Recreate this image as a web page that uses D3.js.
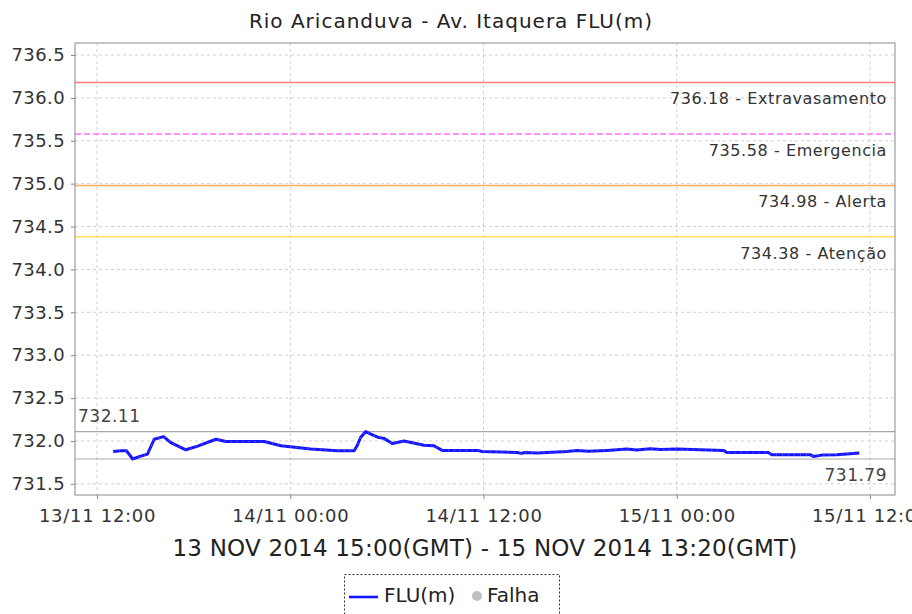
<!DOCTYPE html>
<html>
<head>
<meta charset="utf-8">
<title>Rio Aricanduva - Av. Itaquera FLU(m)</title>
<script src="https://d3js.org/d3.v7.min.js"></script>
<style>
  body { margin: 0; background: #fff; }
  svg { display: block; font-family: "DejaVu Sans", sans-serif; }
  .grid line { stroke: #cfcfcf; stroke-dasharray: 3,3; }
  .axis text { fill: #333; font-family: "DejaVu Sans", sans-serif; }
  .axis path, .axis line { stroke: #888; }
</style>
</head>
<body>
<svg width="912" height="614"></svg>
<script>
// readings of the FLU(m) series (local time)
var times = [
  "2014-11-13 13:00", "2014-11-13 13:30", "2014-11-13 13:50", "2014-11-13 14:13",
  "2014-11-13 14:40", "2014-11-13 15:08", "2014-11-13 15:33", "2014-11-13 16:08",
  "2014-11-13 16:35", "2014-11-13 17:31", "2014-11-13 18:15", "2014-11-13 19:23",
  "2014-11-13 20:00", "2014-11-13 22:23", "2014-11-13 23:25", "2014-11-14 01:16",
  "2014-11-14 02:56", "2014-11-14 03:58", "2014-11-14 04:10", "2014-11-14 04:22",
  "2014-11-14 04:41", "2014-11-14 05:00", "2014-11-14 05:30", "2014-11-14 05:49",
  "2014-11-14 06:20", "2014-11-14 07:04", "2014-11-14 07:35", "2014-11-14 08:18",
  "2014-11-14 08:55", "2014-11-14 09:26", "2014-11-14 11:37", "2014-11-14 11:55",
  "2014-11-14 14:05", "2014-11-14 14:20", "2014-11-14 14:35", "2014-11-14 15:20",
  "2014-11-14 17:11", "2014-11-14 17:49", "2014-11-14 18:30", "2014-11-14 19:40",
  "2014-11-14 20:55", "2014-11-14 21:30", "2014-11-14 22:21", "2014-11-14 23:00",
  "2014-11-15 00:00", "2014-11-15 02:54", "2014-11-15 03:07", "2014-11-15 05:41",
  "2014-11-15 05:54", "2014-11-15 08:17", "2014-11-15 08:29", "2014-11-15 09:00",
  "2014-11-15 09:56", "2014-11-15 10:58", "2014-11-15 11:20"
];
var levels = [
  731.877, 731.885, 731.885, 731.79,
  731.82, 731.847, 732.02, 732.05,
  731.98, 731.897, 731.94, 732.02,
  731.994, 731.994, 731.944, 731.905,
  731.886, 731.886, 731.95, 732.04,
  732.11, 732.08, 732.04, 732.03,
  731.97, 732.0, 731.98, 731.95,
  731.944, 731.89, 731.89, 731.877,
  731.866, 731.855, 731.866, 731.86,
  731.877, 731.89, 731.88, 731.89,
  731.905, 731.895, 731.91, 731.9,
  731.905, 731.89, 731.866, 731.866,
  731.84, 731.84, 731.82, 731.835,
  731.84, 731.855, 731.86
];

// threshold levels
var limitValues = [736.18, 735.58, 734.98, 734.38];
var limitNames = ["Extravasamento", "Emergencia", "Alerta", "Atenção"];
var limitColors = ["#f78080", "#ff70ff", "#ffa860", "#ffe060"];
var limitDash = [null, "6,3", null, null];

var maxValue = 732.11, minValue = 731.79;

var yTicks = [731.5, 732.0, 732.5, 733.0, 733.5, 734.0, 734.5, 735.0, 735.5, 736.0, 736.5];
var xTicks = ["2014-11-13 12:00", "2014-11-14 00:00", "2014-11-14 12:00", "2014-11-15 00:00", "2014-11-15 12:00"];
var xDomain = ["2014-11-13 10:38", "2014-11-15 13:33"];

var parse = d3.utcParse("%Y-%m-%d %H:%M");
var fmt = d3.utcFormat("%d/%m %H:%M");

var data = times.map(function(t, i) { return { date: parse(t), v: levels[i] }; });

var svg = d3.select("svg");
var pLeft = 75, pRight = 895, pTop = 43, pBottom = 495;

var x = d3.scaleUtc().domain(xDomain.map(parse)).range([pLeft, pRight]);
var y = d3.scaleLinear().domain([731.37, 736.64]).range([pBottom, pTop]);

// title
svg.append("text")
  .attr("x", 451).attr("y", 28)
  .attr("text-anchor", "middle")
  .style("font-size", "20px").style("fill", "#222")
  .style("letter-spacing", "1px")
  .text("Rio Aricanduva - Av. Itaquera FLU(m)");

// plot background + grid
svg.append("rect").attr("x", pLeft).attr("y", pTop)
  .attr("width", pRight - pLeft).attr("height", pBottom - pTop)
  .attr("fill", "#fff");

var grid = svg.append("g").attr("class", "grid");
grid.selectAll(".gy").data(yTicks).enter().append("line")
  .attr("x1", pLeft).attr("x2", pRight)
  .attr("y1", function(d) { return y(d); }).attr("y2", function(d) { return y(d); });
grid.selectAll(".gx").data(xTicks).enter().append("line")
  .attr("y1", pTop).attr("y2", pBottom)
  .attr("x1", function(d) { return x(parse(d)); }).attr("x2", function(d) { return x(parse(d)); });

// threshold lines
limitValues.forEach(function(v, i) {
  svg.append("line")
    .attr("x1", pLeft).attr("x2", pRight)
    .attr("y1", y(v)).attr("y2", y(v))
    .attr("stroke", limitColors[i]).attr("stroke-width", 1.5)
    .attr("stroke-dasharray", limitDash[i]);
  svg.append("text")
    .attr("x", 887).attr("y", y(v) + 22)
    .attr("text-anchor", "end")
    .style("font-size", "16px").style("fill", "#333")
    .style("letter-spacing", "0.6px")
    .text(v.toFixed(2) + " - " + limitNames[i]);
});

// max / min markers
[maxValue, minValue].forEach(function(v) {
  svg.append("line")
    .attr("x1", pLeft).attr("x2", pRight)
    .attr("y1", y(v)).attr("y2", y(v))
    .attr("stroke", "#a8a8a8").attr("stroke-width", 1.2);
});
svg.append("text").attr("x", 78).attr("y", y(maxValue) - 10)
  .style("font-size", "17px").style("fill", "#444").style("letter-spacing", "0.5px")
  .text(maxValue.toFixed(2));
svg.append("text").attr("x", 887).attr("y", y(minValue) + 22)
  .attr("text-anchor", "end")
  .style("font-size", "17px").style("fill", "#444").style("letter-spacing", "0.5px")
  .text(minValue.toFixed(2));

// series
var line = d3.line()
  .x(function(d) { return x(d.date); })
  .y(function(d) { return y(d.v); });

svg.append("path").datum(data)
  .attr("fill", "none")
  .attr("stroke", "#1515ff")
  .attr("stroke-width", 3)
  .attr("stroke-linejoin", "round")
  .attr("d", line);

svg.append("path").datum(data)
  .attr("fill", "none")
  .attr("stroke", "#9a9aff")
  .attr("stroke-width", 0.8)
  .attr("stroke-dasharray", "1,5")
  .attr("d", line);

// axes
var yAxis = d3.axisLeft(y).tickValues(yTicks).tickFormat(d3.format(".1f"))
  .tickSize(4).tickPadding(6);
var gy = svg.append("g").attr("class", "axis")
  .attr("transform", "translate(" + pLeft + ",0)")
  .call(yAxis);
gy.selectAll("text").style("font-size", "18px").style("letter-spacing", "0.4px");
gy.select(".domain").remove();

var xAxis = d3.axisBottom(x).tickValues(xTicks.map(parse)).tickFormat(fmt)
  .tickSize(4).tickPadding(10);
var gx = svg.append("g").attr("class", "axis")
  .attr("transform", "translate(0," + pBottom + ")")
  .call(xAxis);
gx.selectAll("text").style("font-size", "18px").style("letter-spacing", "0.7px");
gx.select(".domain").remove();

// plot border
svg.append("rect").attr("x", pLeft).attr("y", pTop)
  .attr("width", pRight - pLeft).attr("height", pBottom - pTop)
  .attr("fill", "none").attr("stroke", "#8a8a8a");

// x axis label
svg.append("text")
  .attr("x", 485).attr("y", 556)
  .attr("text-anchor", "middle")
  .style("font-size", "23px").style("fill", "#222")
  .style("letter-spacing", "0.2px")
  .text("13 NOV 2014 15:00(GMT) - 15 NOV 2014 13:20(GMT)");

// legend
var lg = svg.append("g");
lg.append("rect").attr("x", 344.5).attr("y", 574.5).attr("width", 215).attr("height", 45)
  .attr("fill", "#fff").attr("stroke", "#333").attr("stroke-dasharray", "2,2");
lg.append("line").attr("x1", 349).attr("x2", 378).attr("y1", 597).attr("y2", 597)
  .attr("stroke", "#1515ff").attr("stroke-width", 2.6);
lg.append("text").attr("x", 384).attr("y", 602)
  .style("font-size", "20px").style("fill", "#222").text("FLU(m)");
lg.append("circle").attr("cx", 477).attr("cy", 596).attr("r", 5).attr("fill", "#c0c0c0");
lg.append("text").attr("x", 487).attr("y", 602)
  .style("font-size", "20px").style("fill", "#222").text("Falha");
</script>
</body>
</html>
